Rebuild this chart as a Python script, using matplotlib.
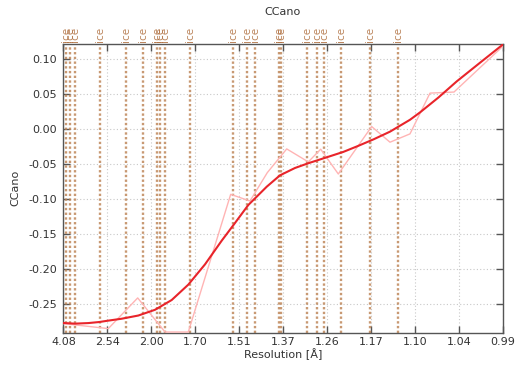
import numpy as np
import matplotlib
matplotlib.use("Agg")
import matplotlib.pyplot as plt

plt.rcParams["font.family"] = ["DejaVu Sans"]
plt.rcParams["axes.unicode_minus"] = False

# Resolution axis is drawn in 1/d^2 (d_star_sq)
d_min_sq = 1 / 4.08 ** 2
d_max_sq = 1 / 0.99 ** 2
tick_labels = ["4.08", "2.54", "2.00", "1.70", "1.51", "1.37",
               "1.26", "1.17", "1.10", "1.04", "0.99"]
ytick_values = [-0.25, -0.20, -0.15, -0.10, -0.05, 0.00, 0.05, 0.10]

# CCano per resolution bin
cc_dstar_sq = [0.0601, 0.1580, 0.2223, 0.2820, 0.3329, 0.4256, 0.4678,
               0.5056, 0.5481, 0.5953, 0.6224, 0.6609, 0.7339, 0.7739,
               0.8176, 0.8614, 0.9138, 1.0203]
cc_values = [-0.2788, -0.2859, -0.2420, -0.2908, -0.2908, -0.0937, -0.1033,
             -0.0627, -0.0287, -0.0473, -0.0291, -0.0646, 0.0033, -0.0191,
             -0.0072, 0.0512, 0.0527, 0.1180]

# Smoothed CCano fit
fit_dstar_sq = [0.0601, 0.0852, 0.1143, 0.1380, 0.1580, 0.1870, 0.2236,
                0.2601, 0.2966, 0.3329, 0.3694, 0.4060, 0.4313, 0.4641,
                0.5044, 0.5334, 0.5662, 0.5953, 0.6318, 0.6718, 0.7039,
                0.7380, 0.7739, 0.8176, 0.8394, 0.8800, 0.9197, 0.9700,
                1.0203]
fit_values = [-0.2779, -0.2788, -0.2780, -0.2765, -0.2745, -0.2718, -0.2672,
              -0.2590, -0.2450, -0.2230, -0.1940, -0.1600, -0.1380, -0.1090,
              -0.0828, -0.0665, -0.0560, -0.0492, -0.0415, -0.0330, -0.0245,
              -0.0150, -0.0040, 0.0130, 0.0235, 0.0450, 0.0679, 0.0943,
              0.1205]

# Ice ring resolutions (Å)
ice_rings = [3.897, 3.669, 3.441, 2.671, 2.249, 2.072, 1.948, 1.918, 1.883,
             1.721, 1.524, 1.473, 1.444, 1.372, 1.367, 1.299, 1.275, 1.261,
             1.224, 1.171, 1.124]

fig = plt.figure(figsize=(5.15, 3.69), dpi=100)
ax = fig.add_axes([0.1233, 0.0989, 0.8528, 0.7819])

ice_color = "#bb8050"
for d in ice_rings:
    s = 1 / d ** 2
    ax.axvline(s, color=ice_color, lw=1.7, ls=(0, (1, 1)), alpha=0.8, zorder=1)
    ax.text(s, 1.008, "ice", transform=ax.get_xaxis_transform(), rotation=90,
            ha="center", va="bottom", fontsize=7.5, color="#b07040", alpha=0.85)

ax.plot(cc_dstar_sq, cc_values, color="#ffb4b4", lw=1.0, zorder=3)
ax.plot(fit_dstar_sq, fit_values, color="#e8242a", lw=1.5, zorder=4,
        solid_joinstyle="round")

ax.set_xlim(d_min_sq, d_max_sq)
ax.set_ylim(-0.2915, 0.1215)
ax.set_xticks(np.linspace(d_min_sq, d_max_sq, len(tick_labels)))
ax.set_xticklabels(tick_labels)
ax.set_yticks(ytick_values)
ax.set_yticklabels([f"{v:.2f}" for v in ytick_values])

ax.grid(True, color="#c8c8c8", ls=(0, (1, 2)), lw=0.8)
ax.set_axisbelow(True)
ax.tick_params(direction="in", top=True, right=True, length=5, width=1,
               color="#555555", labelsize=8, labelcolor="#333333")
ax.tick_params(axis="x", pad=3.5)
ax.tick_params(axis="y", pad=4.5)
for sp in ax.spines.values():
    sp.set_color("#555555")
    sp.set_linewidth(1.0)

ax.set_xlabel("Resolution [Å]", fontsize=8, color="#333333", labelpad=1)
ax.set_ylabel("CCano", fontsize=8, color="#333333", labelpad=6)
fig.text(0.5495, 0.967, "CCano", ha="center", va="center", fontsize=8,
         color="#333333")

fig.savefig("out.png", dpi=100)
